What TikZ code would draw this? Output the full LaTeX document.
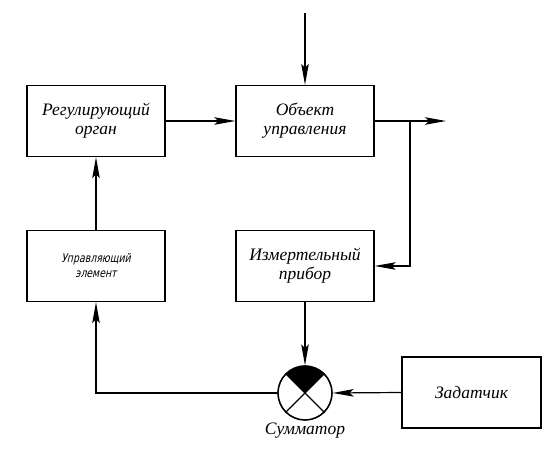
\documentclass[tikz,border=0pt]{standalone}
\usepackage{fontspec}
\setmainfont{Liberation Serif}
\newfontfamily\tnr{Liberation Serif}
\newfontfamily\gostfont{DejaVu Sans}[FakeSlant=0.22,FakeStretch=0.78]
\usetikzlibrary{arrows.meta,calc}
\begin{document}
\begin{tikzpicture}[x=1pt,y=-1pt,
  blk/.style={draw,line width=1.3pt,minimum width=138pt,minimum height=71pt,inner sep=0pt,
    align=center,font=\fontsize{17.5}{19}\selectfont\tnr\itshape},
  conn/.style={line width=1.2pt,-{Stealth[length=21pt,width=7.5pt,inset=4pt]}},
  lbl/.style={font=\fontsize{17.5}{19}\selectfont\tnr\itshape}]
\useasboundingbox (0,0) rectangle (550,454);
\node[blk] (reg) at (96,121) {Регулирующий\\орган};
\node[blk] (obj) at (305,121) {Объект\\управления};
\node[blk,font=\fontsize{12}{15}\selectfont\gostfont] (upr) at (96,266) {Управляющий\\элемент};
\node[blk] (izm) at (305,266) {Измертельный\\прибор};
\node[blk,minimum width=139pt] (zad) at (471.5,392.5) {Задатчик};
\node[circle,draw,line width=1.3pt,minimum size=54pt,inner sep=0pt] (sum) at (305,393) {};
\fill (sum.center) -- ($(sum.center)+(45:27pt)$) arc[start angle=45,end angle=135,radius=27pt] -- cycle;
\draw[line width=1.2pt] (sum.north east) -- (sum.south west) (sum.north west) -- (sum.south east);
\node[circle,draw,line width=1.3pt,minimum size=54pt,inner sep=0pt] at (sum.center) {};
\node[lbl,anchor=north] (sumlbl) at (305,419) {Сумматор};
\coordinate (in) at (305,13);
\coordinate (out) at (446,121);
\coordinate (br) at (410,121);
\draw[conn] (in) -- (obj.north);
\draw[conn] (reg.east) -- (obj.west);
\draw[conn] (obj.east) -- (out);
\draw[conn] (br) |- (izm.east);
\draw[conn] (upr.north) -- (reg.south);
\draw[conn] (izm.south) -- (sum.north);
\draw[conn] (zad.west) -- (sum.east);
\draw[conn] (sum.west) -| (upr.south);
\end{tikzpicture}
\end{document}
